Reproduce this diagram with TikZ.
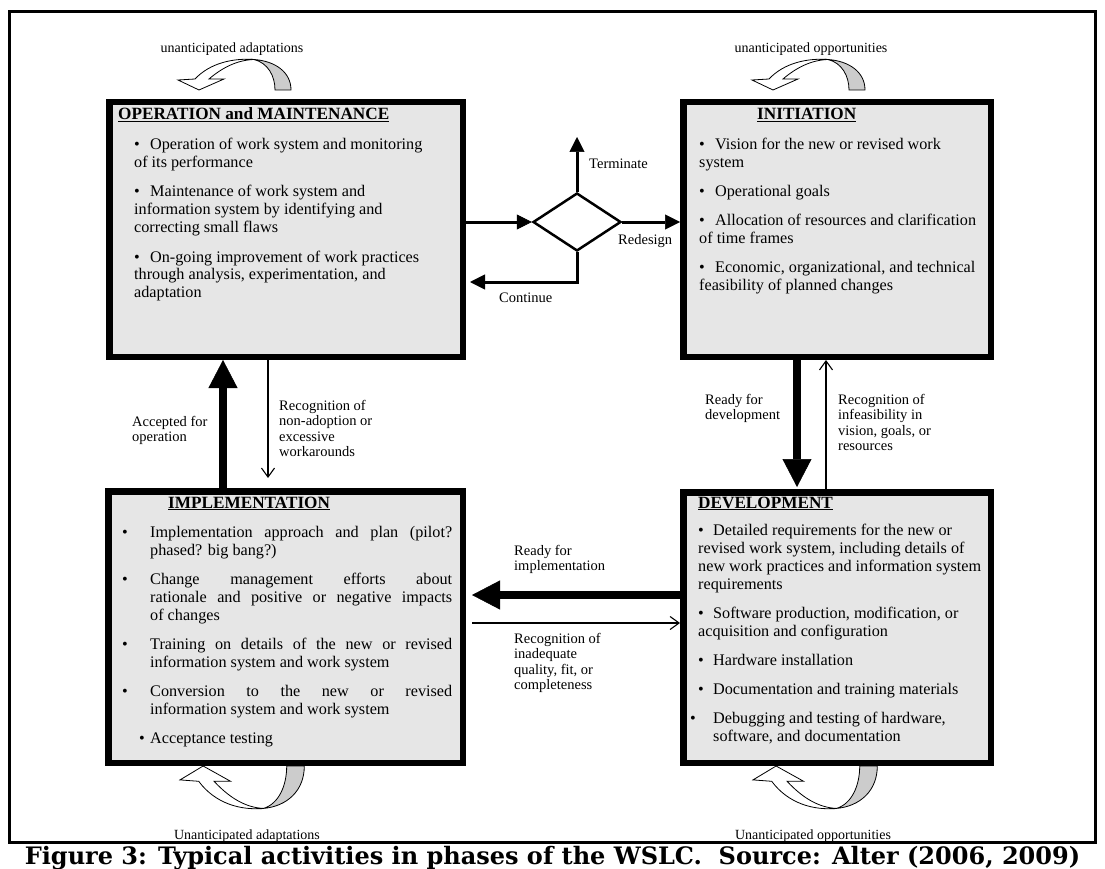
\documentclass[tikz,border=0pt]{standalone}
\usepackage{fontspec}
\setmainfont{Liberation Serif}
\newfontfamily\capfont{DejaVu Serif}
\usetikzlibrary{arrows.meta,shapes.geometric}

\definecolor{boxgray}{RGB}{230,230,230}
\definecolor{tailgray}{RGB}{204,204,204}

% a block of left-aligned lines whose baseline is that of its first line
\newcommand\linesblock[1]{\vtop{\halign{##\hfil\cr#1\crcr}}}
\newcommand\itemgap{\noalign{\vskip 11pt}}

\tikzset{
  frame/.style={draw=black, line width=3pt},
  phase/.style={draw=black, line width=6.5pt, fill=boxgray, inner sep=0pt},
  ttl/.style={font=\bfseries\fontsize{17.2}{18}\selectfont, anchor=base west, inner sep=0pt},
  body/.style={font=\fontsize{16.2}{18}\selectfont, anchor=base west, inner sep=0pt},
  lbl/.style={font=\fontsize{14.5}{15.5}\selectfont, anchor=base west, inner sep=0pt},
  toplbl/.style={font=\fontsize{14}{15}\selectfont, anchor=base, inner sep=0pt},
  thickarrow/.style={line width=8pt, -{Triangle[length=28pt,width=29pt,line width=0.5pt]}},
  thinarrow/.style={line width=1.1pt, -{Straight Barb[length=9pt,width=13pt]}},
  flowarrow/.style={line width=3pt, -{Triangle[length=15pt,width=15pt,line width=0.5pt]}},
  decision/.style={diamond, draw=black, line width=2.5pt, fill=white, inner sep=0pt,
    minimum width=88pt, minimum height=58pt, shape aspect=1.5},
  turn/.pic={
    \path[draw=black, line width=0.8pt, fill=white]
      (0,-10) -- (21,0) -- (46,-11) -- (31,-11)
      .. controls (45,-23) and (60,-30) .. (76,-30.5)
      .. controls (55,-32) and (32,-27) .. (17,-11) -- cycle;
    \path[draw=black, line width=0.8pt, fill=tailgray]
      (76,-30.5) .. controls (97,-29) and (113,-18) .. (113,0)
      -- (97,0) .. controls (97,-14) and (90,-27) .. (76,-30.5) -- cycle;
  },
}

\begin{document}
\begin{tikzpicture}[x=1pt,y=-1pt]
\useasboundingbox (0,0) rectangle (1105,869);

% outer frame
\draw[frame] (9.5,11.5) rectangle (1095,842);

% the four phases
\node[phase, minimum width=353.5pt, minimum height=254.5pt] (om)   at (286,229.5) {};
\node[phase, minimum width=307.5pt, minimum height=254.5pt] (init) at (837,229.5) {};
\node[phase, minimum width=354.5pt, minimum height=271.5pt] (impl) at (285.5,627) {};
\node[phase, minimum width=307.5pt, minimum height=270.5pt] (dev)  at (837,627.5) {};

% phase titles
\node[ttl] (omtitle)   at (118,120) {\underline{OPERATION and MAINTENANCE}};
\node[ttl] (inittitle) at (757,120) {\underline{INITIATION}};
\node[ttl] (impltitle) at (168,508) {\underline{IMPLEMENTATION}};
\node[ttl] (devtitle)  at (698,508) {\underline{DEVELOPMENT}};

% phase contents
\node[body] (ombody) at (134,150) {\linesblock{%
\makebox[16pt][l]{\textbullet}Operation of work system and monitoring\cr
of its performance\cr\itemgap
\makebox[16pt][l]{\textbullet}Maintenance of work system and\cr
information system by identifying and\cr
correcting small flaws\cr\itemgap
\makebox[16pt][l]{\textbullet}On-going improvement of work practices\cr
through analysis, experimentation, and\cr
adaptation}};

\node[body] (initbody) at (699,150) {\linesblock{%
\makebox[16pt][l]{\textbullet}Vision for the new or revised work\cr
system\cr\itemgap
\makebox[16pt][l]{\textbullet}Operational goals\cr\itemgap
\makebox[16pt][l]{\textbullet}Allocation of resources and clarification\cr
of time frames\cr\itemgap
\makebox[16pt][l]{\textbullet}Economic, organizational, and technical\cr
feasibility of planned changes}};

\node[body] (implbody) at (122,537) {\linesblock{%
\makebox[28pt][l]{\textbullet}\makebox[302pt][s]{Implementation approach and plan (pilot?}\cr
\hspace*{28pt}phased? big bang?)\cr\itemgap
\makebox[28pt][l]{\textbullet}\makebox[302pt][s]{Change management efforts about}\cr
\hspace*{28pt}\makebox[302pt][s]{rationale and positive or negative impacts}\cr
\hspace*{28pt}of changes\cr\itemgap
\makebox[28pt][l]{\textbullet}\makebox[302pt][s]{Training on details of the new or revised}\cr
\hspace*{28pt}information system and work system\cr\itemgap
\makebox[28pt][l]{\textbullet}\makebox[302pt][s]{Conversion to the new or revised}\cr
\hspace*{28pt}information system and work system\cr\itemgap
\hspace*{17pt}\makebox[11pt][l]{\textbullet}Acceptance testing}};

\node[body] (devbody) at (698,535) {\linesblock{%
\makebox[15pt][l]{\textbullet}Detailed requirements for the new or\cr
revised work system, including details of\cr
new work practices and information system\cr
requirements\cr\itemgap
\makebox[15pt][l]{\textbullet}Software production, modification, or\cr
acquisition and configuration\cr\itemgap
\makebox[15pt][l]{\textbullet}Hardware installation\cr\itemgap
\makebox[15pt][l]{\textbullet}Documentation and training materials\cr\itemgap
\hspace*{-8pt}\makebox[23pt][l]{\textbullet}Debugging and testing of hardware,\cr
\hspace*{15pt}software, and documentation}};

% decision after operation
\node[decision] (dia) at (577,222) {};
\coordinate (termend) at (577,137);
\coordinate (controw) at (0,282);
\draw[flowarrow] (om.east |- dia) -- (dia.west);
\draw[flowarrow] (dia.east) -- (init.west |- dia);
\draw[flowarrow] (dia.north) -- (termend);
\draw[flowarrow, shorten >=4pt] (dia.south) |- (om.east |- controw);
\node[lbl] (termlbl) at (589,169) {Terminate};
\node[lbl] (redlbl)  at (618,244) {Redesign};
\node[lbl] (contlbl) at (499,302) {Continue};

% transitions between phases
\coordinate (xacc) at (223,0);
\coordinate (xnon) at (268,0);
\coordinate (xdev) at (797,0);
\coordinate (xinf) at (826,0);
\coordinate (yimp) at (0,595);
\coordinate (yinq) at (0,623);

\draw[thickarrow] (impl.north -| xacc) -- (om.south -| xacc);
\draw[thinarrow, shorten >=10pt] (om.south -| xnon) -- (impl.north -| xnon);
\draw[thickarrow, shorten >=2pt] (init.south -| xdev) -- (dev.north -| xdev);
\draw[thinarrow] (dev.north -| xinf) -- (init.south -| xinf);
\draw[thickarrow, shorten >=6pt] (dev.west |- yimp) -- (impl.east |- yimp);
\draw[thinarrow, shorten <=6pt] (impl.east |- yinq) -- (dev.west |- yinq);

\node[lbl] (acclbl) at (132,426) {\linesblock{Accepted for\cr operation}};
\node[lbl] (nonlbl) at (279,410) {\linesblock{Recognition of\cr non-adoption or\cr excessive\cr workarounds}};
\node[lbl] (devlbl) at (705,404) {\linesblock{Ready for\cr development}};
\node[lbl] (inflbl) at (838,404) {\linesblock{Recognition of\cr infeasibility in\cr vision, goals, or\cr resources}};
\node[lbl] (implbl) at (514,555) {\linesblock{Ready for\cr implementation}};
\node[lbl] (inqlbl) at (514,643) {\linesblock{Recognition of\cr inadequate\cr quality, fit, or\cr completeness}};

% unanticipated changes within a phase
\pic at (178,90) {turn};
\pic at (752,90) {turn};
\pic[xscale=1.1, yscale=-1.39] at (180,766) {turn};
\pic[xscale=1.1, yscale=-1.39] at (753,766) {turn};
\node[toplbl] (tl) at (232,53) {unanticipated adaptations};
\node[toplbl] (tr) at (811,53) {unanticipated opportunities};
\node[toplbl] (bl) at (247,839) {Unanticipated adaptations};
\node[toplbl] (br) at (813,839) {Unanticipated opportunities};

% caption
\node[anchor=base, inner sep=0pt] (cap) at (552.5,864)
  {\capfont\bfseries\fontsize{24}{26}\selectfont Figure 3: Typical activities in phases of the WSLC.~ Source: Alter (2006, 2009)};
\end{tikzpicture}
\end{document}
